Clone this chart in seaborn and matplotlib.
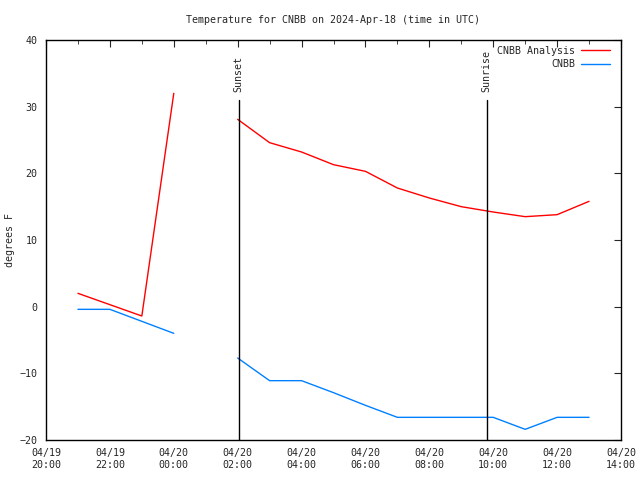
import pandas as pd
import numpy as np
import matplotlib
matplotlib.use("Agg")
import matplotlib.pyplot as plt
import matplotlib.dates as mdates
import seaborn as sns

# hourly times (UTC), 01:00 missing -> gap
times = ["2024-04-19 21:00", "2024-04-19 22:00", "2024-04-19 23:00", "2024-04-20 00:00",
         "2024-04-20 02:00", "2024-04-20 03:00", "2024-04-20 04:00", "2024-04-20 05:00",
         "2024-04-20 06:00", "2024-04-20 07:00", "2024-04-20 08:00", "2024-04-20 09:00",
         "2024-04-20 10:00", "2024-04-20 11:00", "2024-04-20 12:00", "2024-04-20 13:00"]
segment = [0, 0, 0, 0, 1, 1, 1, 1, 1, 1, 1, 1, 1, 1, 1, 1]
analysis = [2.0, 0.3, -1.4, 32.0, 28.1, 24.6, 23.2, 21.3, 20.3, 17.8, 16.3, 15.0, 14.2, 13.5, 13.8, 15.8]
obs = [-0.4, -0.4, -2.2, -4.0, -7.7, -11.1, -11.1, -12.9, -14.8, -16.6, -16.6, -16.6, -16.6, -18.4, -16.6, -16.6]
sunset = "2024-04-20 02:02"
sunrise = "2024-04-20 09:48"
tick_labels = ["04/19\n20:00", "04/19\n22:00", "04/20\n00:00", "04/20\n02:00", "04/20\n04:00",
               "04/20\n06:00", "04/20\n08:00", "04/20\n10:00", "04/20\n12:00", "04/20\n14:00"]

df = pd.concat([
    pd.DataFrame({"time": pd.to_datetime(times), "temp": analysis, "seg": segment, "series": "CNBB Analysis"}),
    pd.DataFrame({"time": pd.to_datetime(times), "temp": obs, "seg": segment, "series": "CNBB"}),
])

sns.set_style("white")
plt.rcParams["font.family"] = ["DejaVu Sans Mono"]
fs = 7.2

fig = plt.figure(figsize=(6.4, 4.8), dpi=100)
ax = fig.add_axes([46 / 640, 40 / 480, 575 / 640, 400 / 480])

sns.lineplot(data=df, x="time", y="temp", hue="series", units="seg", estimator=None,
             palette={"CNBB Analysis": "#ff0000", "CNBB": "#0080ff"}, linewidth=1, ax=ax)

for t, lab in [(sunset, "Sunset"), (sunrise, "Sunrise")]:
    tt = pd.Timestamp(t)
    ax.plot([tt, tt], [-20, 31], color="black", linewidth=1)
    ax.text(tt, 32.2, lab, rotation=90, ha="center", va="bottom", fontsize=fs)

start = pd.Timestamp("2024-04-19 20:00")
ticks = pd.date_range(start, periods=len(tick_labels), freq="2h")
ax.set_xlim(start, pd.Timestamp("2024-04-20 14:00"))
ax.set_ylim(-20, 40)
ax.set_xticks(ticks)
ax.set_xticklabels(tick_labels)
ax.xaxis.set_minor_locator(mdates.HourLocator())
ax.set_yticks(np.arange(-20, 41, 10))
ax.tick_params(which="both", direction="in", top=True, right=True, labelsize=fs, pad=6)
ax.tick_params(which="major", length=5)
ax.tick_params(which="minor", length=3)
for s in ax.spines.values():
    s.set_color("black")
    s.set_linewidth(1)

ax.set_xlabel("")
ax.set_ylabel("degrees F", fontsize=fs, va="center")
ax.yaxis.set_label_coords(-36 / 575, 0.5)
ax.set_title("Temperature for CNBB on 2024-Apr-18 (time in UTC)", fontsize=fs, pad=12)
ax.legend(loc="upper right", bbox_to_anchor=(0.985, 0.99), frameon=False, markerfirst=False,
          fontsize=fs, handlelength=2.9, handletextpad=0.6, borderaxespad=0.0,
          borderpad=0.2, labelspacing=0.35)

fig.savefig("out.png", dpi=100)
